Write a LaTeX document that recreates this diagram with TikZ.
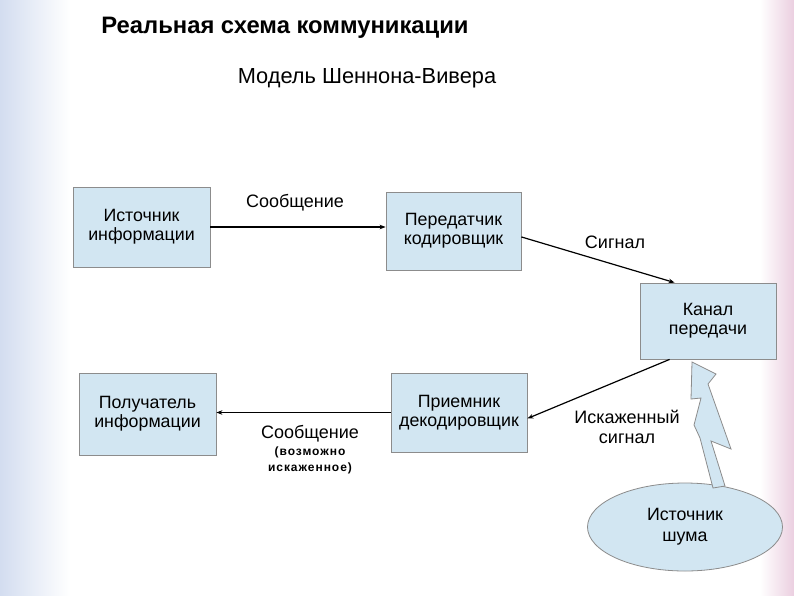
\documentclass[tikz,border=0pt]{standalone}
\usepackage{fontspec}
\setmainfont{Liberation Sans}
\newfontfamily\spacedbold[LetterSpace=8,BoldFont={Liberation Sans Bold}]{Liberation Sans}
\usetikzlibrary{shapes.geometric,arrows.meta,calc}
\definecolor{boxfill}{HTML}{D2E6F2}
\definecolor{boxline}{HTML}{8C8C8C}
\definecolor{bgpink}{HTML}{EBCFE0}
\definecolor{bgblue}{HTML}{D3DDF0}
\tikzset{
  blockbox/.style={draw=boxline, fill=boxfill, line width=0.8pt, minimum width=#1, inner sep=0pt, align=center, font=\fontsize{17.8}{19}\selectfont},
  lbl/.style={inner sep=0pt, align=center, font=\fontsize{18}{20}\selectfont},
  smalllbl/.style={inner sep=0pt, align=center, font=\spacedbold\bfseries\fontsize{12}{16}\selectfont},
  conn/.style={line width=1.2pt, -{Stealth[length=6pt,width=4.5pt]}},
}
\begin{document}
\begin{tikzpicture}[x=1pt,y=-1pt]
\useasboundingbox (0,0) rectangle (794,595);
% faint decorative background
\fill[white] (0,0) rectangle (794,595);
\shade[left color=bgblue, right color=white] (0,0) rectangle (70,595);
\shade[left color=white, right color=bgpink] (760,0) rectangle (794,595);

% titles
\node[inner sep=0pt, font=\bfseries\fontsize{23.8}{28}\selectfont] (title) at (285,28) {Реальная схема коммуникации};
\node[inner sep=0pt, font=\fontsize{21.8}{26}\selectfont] (subtitle) at (367,78) {Модель Шеннона-Вивера};

% boxes
\node[blockbox=137pt, minimum height=80pt] (src) at (141.5,227) {Источник\\информации};
\node[blockbox=135pt, minimum height=78pt] (tx) at (453.5,231) {Передатчик\\кодировщик};
\node[blockbox=136pt, minimum height=76pt] (ch) at (708,321) {Канал\\передачи};
\node[blockbox=137pt, minimum height=82pt] (ri) at (147.5,414) {Получатель\\информации};
\node[blockbox=136pt, minimum height=79pt] (rx) at (459,412.5) {Приемник\\декодировщик};
\node[draw=boxline, fill=boxfill, line width=0.8pt, ellipse, minimum width=195pt, minimum height=88pt, inner sep=0pt, align=center, font=\fontsize{17.8}{21}\selectfont] (noise) at (685,527) {Источник\\шума};

% lightning arrow from noise source to channel
\draw[draw=boxline, fill=boxfill, line width=0.8pt, line join=miter]
  (692,362) -- (716,374) -- (708,384) -- (731,449) -- (711,441) -- (725,486)
  -- (713,488) -- (700,438) -- (694,425) -- (701,398) -- (691,399) -- cycle;

% connectors
\draw[conn] (src.east) -- (src.east -| tx.west);
\draw[conn] (tx.-5) -- (ch.131);
\draw[conn] (ch.-135) -- (rx.-5);
\draw[conn] (rx.west) -- (rx.west -| ri.east);

% labels
\node[lbl] (l1) at (295,203) {Сообщение};
\node[lbl] (l2) at (615,242) {Сигнал};
\node[lbl] (l3) at (627,427) {Искаженный\\сигнал};
\node[lbl] (l4) at (310,434) {Сообщение};
\node[smalllbl] (l5) at (310,460) {(возможно\\искаженное)};
\end{tikzpicture}
\end{document}
